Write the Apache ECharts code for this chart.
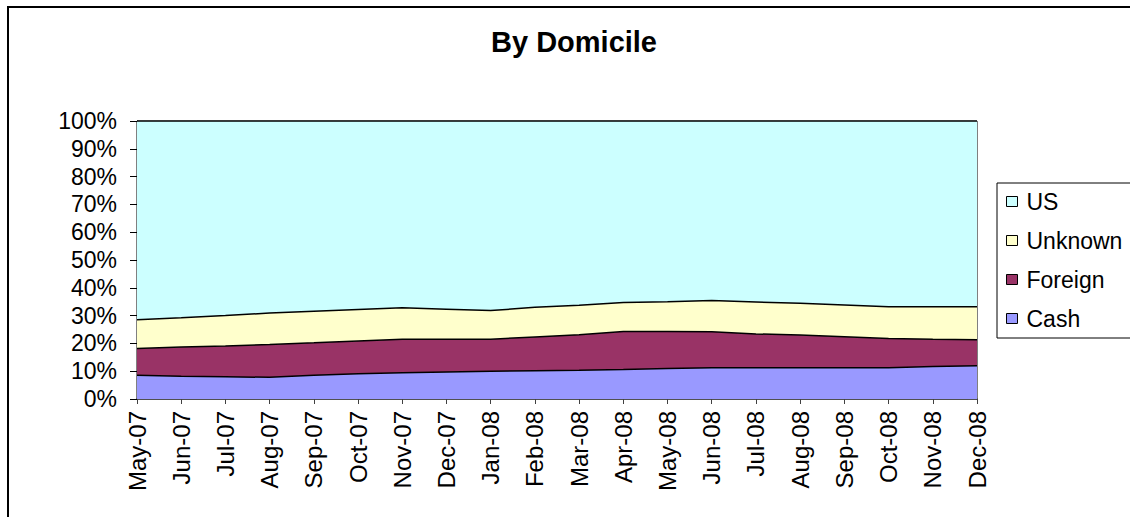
<!DOCTYPE html>
<html>
<head>
<meta charset="utf-8">
<title>By Domicile</title>
<script src="https://cdn.jsdelivr.net/npm/echarts@6/dist/echarts.min.js"></script>
<style>
  html, body { margin: 0; padding: 0; background: #fff; }
  #chart { width: 1130px; height: 517px; }
</style>
</head>
<body>
<div id="chart"></div>
<script>
// months on the x axis
var months = ['May-07','Jun-07','Jul-07','Aug-07','Sep-07','Oct-07','Nov-07','Dec-07','Jan-08','Feb-08',
              'Mar-08','Apr-08','May-08','Jun-08','Jul-08','Aug-08','Sep-08','Oct-08','Nov-08','Dec-08'];

// share of each group in percent
var cash    = [8.5, 8.2, 8.0, 7.8, 8.5, 9.1, 9.4, 9.7, 10.0, 10.2, 10.3, 10.6, 11.0, 11.2, 11.2, 11.2, 11.2, 11.2, 11.7, 12.0];
var foreign = [9.7, 10.5, 11.1, 11.8, 11.7, 11.8, 12.1, 11.8, 11.5, 12.1, 12.8, 13.7, 13.3, 13.0, 12.2, 11.8, 11.2, 10.6, 9.8, 9.3];
var unknown = [10.3, 10.5, 10.9, 11.3, 11.4, 11.3, 11.3, 10.8, 10.3, 10.7, 10.6, 10.4, 10.7, 11.2, 11.5, 11.4, 11.4, 11.4, 11.7, 11.9];
var us      = [71.5, 70.8, 70.0, 69.1, 68.4, 67.8, 67.2, 67.7, 68.2, 67.0, 66.3, 65.3, 65.0, 64.6, 65.1, 65.6, 66.2, 66.8, 66.8, 66.8];

var legendNames = ['US', 'Unknown', 'Foreign', 'Cash'];

var font = 'Liberation Sans, Arial, sans-serif';

// one area series, stacked from the bottom
function areaSeries(name, data, color) {
    return {
        name: name,
        type: 'line',
        stack: 'total',
        data: data,
        symbol: 'none',
        color: color,
        lineStyle: { color: '#000', width: 1.5 },
        areaStyle: { color: color, opacity: 1 },
        emphasis: { disabled: true }
    };
}

var myChart = echarts.init(document.getElementById('chart'), null, { renderer: 'svg' });
var option = {
    animation: false,
    title: {
        text: 'By Domicile',
        left: 574,
        top: 27,
        textAlign: 'center',
        padding: 0,
        textStyle: { fontFamily: font, fontSize: 29, fontWeight: 'bold', color: '#000' }
    },
    legend: {
        orient: 'vertical',
        left: 1006,
        top: 190,
        padding: 0,
        itemGap: 16,
        itemWidth: 11,
        itemHeight: 10,
        icon: 'rect',
        data: legendNames,
        itemStyle: { borderColor: '#000', borderWidth: 1 },
        textStyle: { fontFamily: font, fontSize: 23, color: '#000', padding: [0, 0, 0, 4] }
    },
    grid: {
        left: 137,
        right: 153,
        top: 121,
        bottom: 118,
        show: true,
        borderColor: '#000',
        borderWidth: 1
    },
    xAxis: {
        type: 'category',
        data: months,
        boundaryGap: false,
        axisLine: { lineStyle: { color: '#404040', width: 1.5 } },
        axisTick: { length: 5, lineStyle: { color: '#404040' } },
        axisLabel: {
            rotate: 90,
            interval: 0,
            margin: 12,
            fontFamily: font,
            fontSize: 24,
            color: '#000'
        },
        splitLine: { show: false }
    },
    yAxis: {
        type: 'value',
        min: 0,
        max: 100,
        interval: 10,
        axisLine: { show: true, lineStyle: { color: '#000' } },
        axisTick: { show: true, length: 7, lineStyle: { color: '#000' } },
        axisLabel: {
            formatter: '{value}%',
            margin: 20,
            fontFamily: font,
            fontSize: 23,
            color: '#000'
        },
        splitLine: { show: false }
    },
    graphic: [
        {
            type: 'rect',
            shape: { x: 8, y: 7, width: 1300, height: 700 },
            style: { fill: 'none', stroke: '#000', lineWidth: 2 },
            silent: true
        },
        {
            type: 'rect',
            shape: { x: 997, y: 183, width: 200, height: 155 },
            style: { fill: 'none', stroke: '#000', lineWidth: 1 },
            silent: true
        }
    ],
    series: [
        areaSeries('Cash', cash, '#9999ff'),
        areaSeries('Foreign', foreign, '#993366'),
        areaSeries('Unknown', unknown, '#ffffcc'),
        areaSeries('US', us, '#ccffff')
    ]
};
option && myChart.setOption(option);
</script>
</body>
</html>
